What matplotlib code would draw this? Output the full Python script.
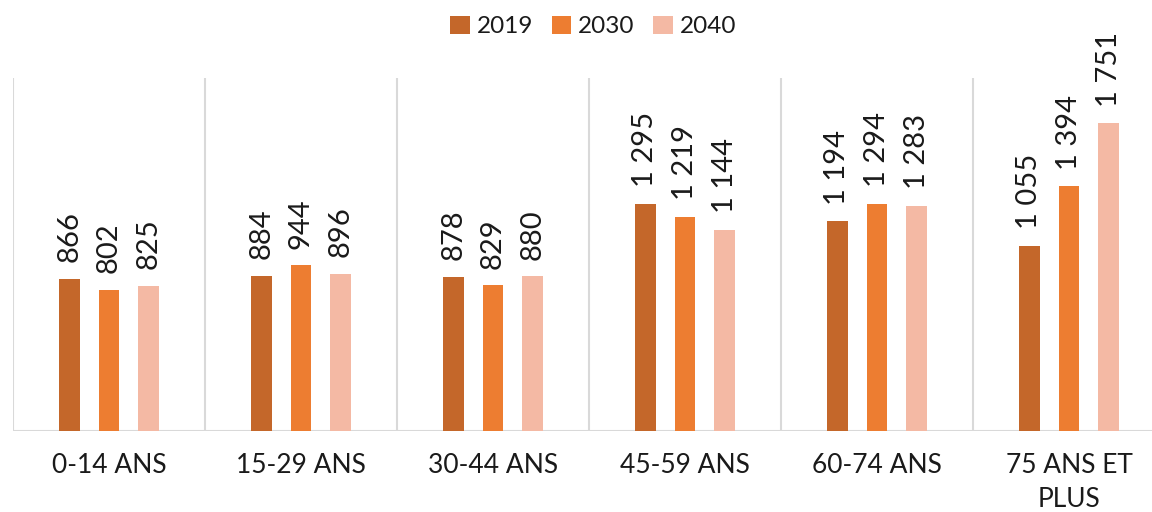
import matplotlib
matplotlib.use("Agg")
import matplotlib.pyplot as plt
import numpy as np

categories = ["0-14 ANS", "15-29 ANS", "30-44 ANS", "45-59 ANS", "60-74 ANS", "75 ANS ET\nPLUS"]
series_names = ["2019", "2030", "2040"]
values_2019 = [866, 884, 878, 1295, 1194, 1055]
values_2030 = [802, 944, 829, 1219, 1294, 1394]
values_2040 = [825, 896, 880, 1144, 1283, 1751]
colors = ["#C4672A", "#ED7D31", "#F4B9A4"]

plt.rcParams['font.family'] = ['Lato', 'DejaVu Sans']

fig = plt.figure(figsize=(11.52, 5.12), dpi=100)
ax = fig.add_axes([13/1152, 81/512, 1152/1152, 353/512])

x = np.arange(len(categories))
width = 0.109
offsets = [-0.206, 0.0, 0.206]
all_vals = [values_2019, values_2030, values_2040]

def fmt(v):
    return f"{v:,}".replace(",", " ")

for vals, off, col, name in zip(all_vals, offsets, colors, series_names):
    bars = ax.bar(x + off, vals, width=width, color=col, label=name, zorder=3)
    for b, v in zip(bars, vals):
        ax.annotate(fmt(v), (b.get_x() + b.get_width() / 2, b.get_height()),
                    xytext=(0, 12), textcoords="offset points",
                    rotation=90, ha="center", va="bottom",
                    fontsize=21, fontweight="normal", color="#1a1a1a")

ax.set_xlim(-0.5, len(categories) - 0.5)
ax.set_ylim(0, 2010)
for b in np.arange(-0.5, len(categories), 1.0):
    ax.axvline(b, color="#d9d9d9", lw=1.5, zorder=1)
ax.axhline(0, color="#d9d9d9", lw=1.5, zorder=2)

for s in ax.spines.values():
    s.set_visible(False)
ax.set_yticks([])
ax.set_xticks(x)
ax.set_xticklabels(categories, fontsize=19, fontweight="normal", color="#1a1a1a", linespacing=1.45)
ax.tick_params(axis="x", length=0, pad=16)

leg = fig.legend(loc="upper center", bbox_to_anchor=(0.515, 1.012), ncol=3, frameon=False,
                 fontsize=17.5, handlelength=0.8, handleheight=0.8, handletextpad=0.3,
                 columnspacing=0.75)
for t in leg.get_texts():
    t.set_color("#1a1a1a")

fig.savefig("out.png", dpi=100)
